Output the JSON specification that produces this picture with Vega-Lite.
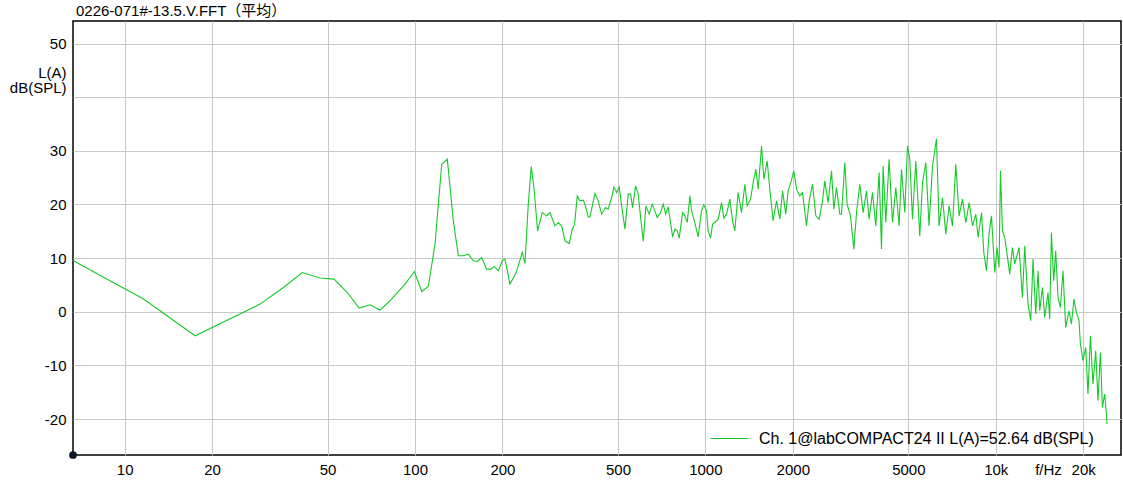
{
  "$schema": "https://vega.github.io/schema/vega-lite/v6.json",
  "autosize": "none",
  "width": 1048,
  "height": 434,
  "padding": {"left": 73, "top": 21, "right": 2, "bottom": 33},
  "background": "white",
  "title": {
    "text": "0226-071#-13.5.V.FFT（平均）",
    "anchor": "start",
    "frame": "group",
    "fontSize": 15,
    "fontWeight": "normal",
    "color": "#000",
    "baseline": "bottom",
    "offset": 5,
    "dx": 3,
    "dy": 18
  },
  "datasets": {
    "spectrum": [
      {"f":6.66,"dB":9.5},{"f":11.61,"dB":2.37},{"f":17.49,"dB":-4.47},{"f":29.27,"dB":1.43},{"f":35.2,"dB":4.53},{"f":40.9,"dB":7.32},{"f":47.1,"dB":6.28},{"f":52.6,"dB":6.09},{"f":58.5,"dB":3.59},{"f":64.2,"dB":0.69},{"f":70.0,"dB":1.3},{"f":75.8,"dB":0.32},{"f":82.0,"dB":2.05},{"f":92.4,"dB":5.16},{"f":99.5,"dB":7.5},{"f":105.5,"dB":3.78},{"f":111.1,"dB":4.71},{"f":117.2,"dB":12.61},{"f":123.6,"dB":27.5},{"f":129.2,"dB":28.44},{"f":135.5,"dB":16.95},{"f":141.0,"dB":10.43},{"f":146.7,"dB":10.43},{"f":152.6,"dB":10.74},{"f":158.7,"dB":9.5},{"f":163.9,"dB":9.37},{"f":169.7,"dB":10.11},{"f":176.5,"dB":7.95},{"f":182.2,"dB":7.95},{"f":187.5,"dB":8.44},{"f":193.5,"dB":7.64},{"f":200.4,"dB":9.63},{"f":204.1,"dB":9.81},{"f":212.3,"dB":5.16},{"f":222.7,"dB":7.21},{"f":234.1,"dB":11.04},{"f":239.2,"dB":8.99},{"f":245.5,"dB":20.06},{"f":251.4,"dB":27.06},{"f":256.8,"dB":23.15},{"f":264.4,"dB":15.08},{"f":274.3,"dB":18.49},{"f":284.0,"dB":17.88},{"f":291.6,"dB":18.49},{"f":303.3,"dB":16.01},{"f":311.4,"dB":16.63},{"f":319.9,"dB":16.01},{"f":328.3,"dB":13.22},{"f":339.7,"dB":12.72},{"f":347.9,"dB":15.4},{"f":354.6,"dB":16.33},{"f":362.0,"dB":21.6},{"f":369.8,"dB":20.67},{"f":379.6,"dB":20.8},{"f":384.8,"dB":20.06},{"f":395.0,"dB":17.69},{"f":400.3,"dB":17.69},{"f":416.5,"dB":22.03},{"f":427.6,"dB":20.67},{"f":439.2,"dB":18.19},{"f":453.4,"dB":19.42},{"f":462.8,"dB":19.12},{"f":475.4,"dB":21.29},{"f":484.2,"dB":23.28},{"f":494.7,"dB":22.22},{"f":505.0,"dB":23.28},{"f":514.7,"dB":19.74},{"f":528.4,"dB":15.4},{"f":542.3,"dB":21.92},{"f":552.8,"dB":21.92},{"f":561.6,"dB":19.42},{"f":575.1,"dB":23.46},{"f":587.1,"dB":21.92},{"f":595.1,"dB":18.81},{"f":610.9,"dB":13.09},{"f":624.1,"dB":19.74},{"f":640.6,"dB":18.19},{"f":656.1,"dB":20.06},{"f":670.3,"dB":18.81},{"f":682.6,"dB":17.56},{"f":701.2,"dB":18.49},{"f":715.8,"dB":20.06},{"f":729.6,"dB":18.19},{"f":744.7,"dB":19.55},{"f":771.2,"dB":13.97},{"f":785.3,"dB":15.4},{"f":799.8,"dB":15.08},{"f":812.6,"dB":13.72},{"f":834.8,"dB":18.49},{"f":850.2,"dB":17.88},{"f":865.8,"dB":16.63},{"f":884.5,"dB":21.6},{"f":896.6,"dB":18.81},{"f":919.7,"dB":16.63},{"f":944.1,"dB":13.97},{"f":969.8,"dB":18.81},{"f":987.9,"dB":19.93},{"f":1009,"dB":18.81},{"f":1022,"dB":15.08},{"f":1042,"dB":13.72},{"f":1059,"dB":16.33},{"f":1087,"dB":16.82},{"f":1107,"dB":17.26},{"f":1137,"dB":20.35},{"f":1158,"dB":17.45},{"f":1183,"dB":18.19},{"f":1214,"dB":20.99},{"f":1241,"dB":16.95},{"f":1263,"dB":15.08},{"f":1297,"dB":22.22},{"f":1332,"dB":18.49},{"f":1368,"dB":23.78},{"f":1393,"dB":19.74},{"f":1431,"dB":20.99},{"f":1461,"dB":24.08},{"f":1492,"dB":26.57},{"f":1520,"dB":22.85},{"f":1561,"dB":30.91},{"f":1590,"dB":24.71},{"f":1632,"dB":28.12},{"f":1667,"dB":22.85},{"f":1711,"dB":16.95},{"f":1758,"dB":20.67},{"f":1805,"dB":17.26},{"f":1844,"dB":22.53},{"f":1892,"dB":18.19},{"f":1928,"dB":22.53},{"f":1969,"dB":24.08},{"f":2016,"dB":26.26},{"f":2060,"dB":22.85},{"f":2115,"dB":21.6},{"f":2161,"dB":22.22},{"f":2230,"dB":16.01},{"f":2277,"dB":20.67},{"f":2339,"dB":23.78},{"f":2401,"dB":17.88},{"f":2465,"dB":17.26},{"f":2532,"dB":20.67},{"f":2578,"dB":24.39},{"f":2647,"dB":20.35},{"f":2719,"dB":26.26},{"f":2769,"dB":19.12},{"f":2829,"dB":23.15},{"f":2904,"dB":18.19},{"f":2943,"dB":18.19},{"f":3022,"dB":27.8},{"f":3077,"dB":20.06},{"f":3161,"dB":17.88},{"f":3245,"dB":11.68},{"f":3316,"dB":18.49},{"f":3403,"dB":23.78},{"f":3494,"dB":18.49},{"f":3589,"dB":22.53},{"f":3663,"dB":17.26},{"f":3763,"dB":22.22},{"f":3863,"dB":16.01},{"f":3966,"dB":25.94},{"f":4042,"dB":11.68},{"f":4094,"dB":27.19},{"f":4182,"dB":16.63},{"f":4292,"dB":28.44},{"f":4410,"dB":16.63},{"f":4527,"dB":23.15},{"f":4647,"dB":16.01},{"f":4736,"dB":26.57},{"f":4862,"dB":18.49},{"f":4967,"dB":30.91},{"f":5058,"dB":28.44},{"f":5167,"dB":17.26},{"f":5305,"dB":28.12},{"f":5475,"dB":14.15},{"f":5594,"dB":24.08},{"f":5742,"dB":27.8},{"f":5894,"dB":16.01},{"f":6055,"dB":27.19},{"f":6251,"dB":32.27},{"f":6381,"dB":16.01},{"f":6556,"dB":21.29},{"f":6729,"dB":14.47},{"f":6908,"dB":19.74},{"f":7096,"dB":16.01},{"f":7285,"dB":27.5},{"f":7479,"dB":17.88},{"f":7683,"dB":20.99},{"f":7887,"dB":16.63},{"f":8097,"dB":20.35},{"f":8318,"dB":16.01},{"f":8539,"dB":18.19},{"f":8696,"dB":13.84},{"f":8933,"dB":18.49},{"f":9097,"dB":11.04},{"f":9290,"dB":7.64},{"f":9482,"dB":14.47},{"f":9665,"dB":17.88},{"f":9922,"dB":7.32},{"f":10104,"dB":11.97},{"f":10264,"dB":8.25},{"f":10380,"dB":26.26},{"f":10546,"dB":15.08},{"f":10740,"dB":13.84},{"f":10937,"dB":10.74},{"f":11174,"dB":7.02},{"f":11416,"dB":11.97},{"f":11626,"dB":8.88},{"f":12029,"dB":11.97},{"f":12358,"dB":2.66},{"f":12585,"dB":12.29},{"f":12917,"dB":1.43},{"f":13197,"dB":-1.68},{"f":13441,"dB":9.81},{"f":13731,"dB":-0.43},{"f":13984,"dB":7.64},{"f":14172,"dB":0.19},{"f":14479,"dB":4.53},{"f":14745,"dB":-1.06},{"f":15136,"dB":3.59},{"f":15339,"dB":-1.36},{"f":15548,"dB":14.77},{"f":15834,"dB":5.77},{"f":16088,"dB":11.36},{"f":16383,"dB":2.66},{"f":16700,"dB":0.8},{"f":17046,"dB":7.64},{"f":17415,"dB":-2.92},{"f":17878,"dB":0.19},{"f":18220,"dB":-2.29},{"f":18600,"dB":2.37},{"f":18959,"dB":-0.13},{"f":19352,"dB":-1.68},{"f":19567,"dB":-6.01},{"f":19976,"dB":-9.12},{"f":20408,"dB":-6.65},{"f":20783,"dB":-15.33},{"f":21184,"dB":-4.47},{"f":21623,"dB":-13.46},{"f":22091,"dB":-7.26},{"f":22497,"dB":-16.57},{"f":22932,"dB":-7.58},{"f":23300,"dB":-17.82},{"f":23727,"dB":-15.33},{"f":24051,"dB":-19.05},{"f":24163,"dB":-20.91}
    ],
    "origin": [{"f": 6.64, "dB": -26.7}]
  },
  "layer": [
    {
      "data": {"name": "spectrum"},
      "mark": {"type": "line", "strokeWidth": 1.1, "clip": true, "interpolate": "linear"},
      "encoding": {
        "x": {
          "field": "f", "type": "quantitative",
          "scale": {"type": "log", "domain": [6.64, 27000], "nice": false},
          "axis": {
            "values": [10, 20, 50, 100, 200, 500, 1000, 2000, 5000, 10000, 20000],
            "labelExpr": "datum.value >= 10000 ? (datum.value / 1000) + 'k' : '' + datum.value",
            "title": "f/Hz",
            "titleX": 975,
            "titleY": 7,
            "titleAlign": "center",
            "titleBaseline": "top",
            "titleFontSize": 15,
            "titleFontWeight": "normal",
            "titleColor": "#000",
            "labelPadding": 7,
            "labelBaseline": "top"
          }
        },
        "y": {
          "field": "dB", "type": "quantitative",
          "scale": {"domain": [-26.7, 54.2], "nice": false, "zero": false},
          "axis": {
            "values": [-20, -10, 0, 10, 20, 30, 40, 50],
            "labelExpr": "datum.value == 40 ? '' : '' + datum.value",
            "title": ["L(A)", "dB(SPL)"],
            "titleAngle": 0,
            "titleAlign": "right",
            "titleBaseline": "alphabetic",
            "titleX": -7,
            "titleY": 56,
            "titleLineHeight": 15,
            "titleFontSize": 15,
            "titleFontWeight": "normal",
            "titleColor": "#000",
            "labelPadding": 7
          }
        },
        "color": {
          "datum": "Ch. 1@labCOMPACT24 II L(A)=52.64 dB(SPL)",
          "type": "nominal",
          "scale": {"range": ["#17c92a"]},
          "legend": {
            "title": null,
            "orient": "none",
            "legendX": 637,
            "legendY": 398,
            "padding": 0,
            "symbolType": "stroke",
            "symbolSize": 1444,
            "symbolStrokeWidth": 1,
            "labelOffset": 10,
            "labelFontSize": 16,
            "labelColor": "#000",
            "labelLimit": 600
          }
        }
      }
    },
    {
      "data": {"name": "origin"},
      "mark": {"type": "point", "filled": true, "size": 60, "color": "#0b1526", "opacity": 1, "clip": false},
      "encoding": {
        "x": {"field": "f", "type": "quantitative"},
        "y": {"field": "dB", "type": "quantitative"}
      }
    }
  ],
  "config": {
    "font": "Liberation Sans, Noto Sans CJK SC, sans-serif",
    "view": {"stroke": "#000", "strokeWidth": 1.5},
    "axis": {
      "domain": false,
      "ticks": false,
      "tickSize": 0,
      "grid": true,
      "gridColor": "#c8c8c8",
      "gridWidth": 1,
      "gridOpacity": 1,
      "labelFontSize": 15,
      "labelColor": "#000",
      "labelFont": "Liberation Sans"
    }
  }
}
